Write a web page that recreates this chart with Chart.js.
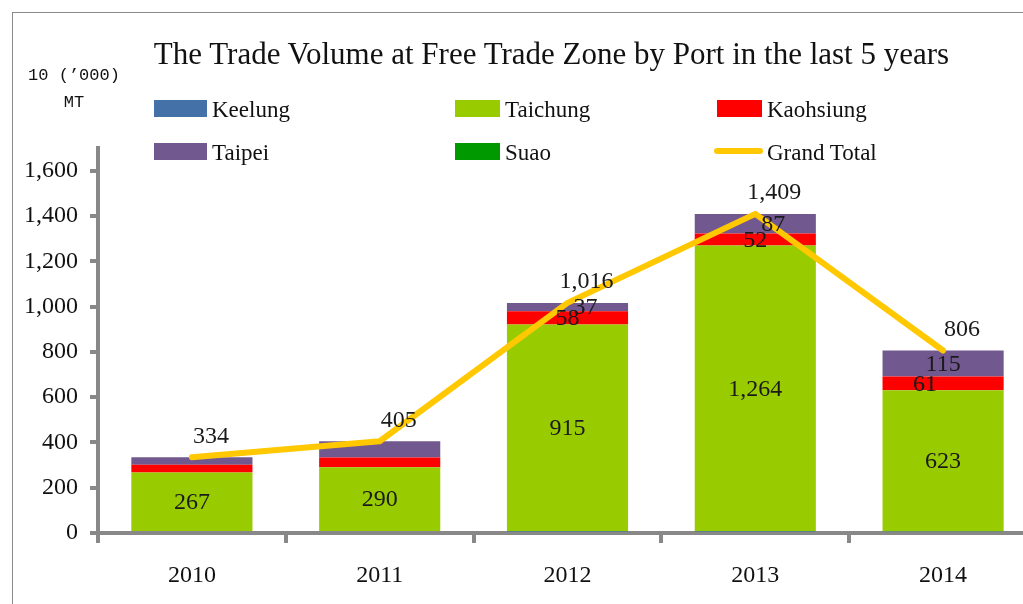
<!DOCTYPE html>
<html>
<head>
<meta charset="utf-8">
<script src="https://cdn.jsdelivr.net/npm/chart.js@4.4.1/dist/chart.umd.min.js"></script>
<style>
  html, body { margin: 0; padding: 0; background: #fff; overflow: hidden; }
  #wrap { position: relative; width: 1040px; height: 604px; }
  #frame { position: absolute; left: 12px; top: 12px; width: 1200px; height: 800px; border: 1px solid #8a8a8a; }
  #title { position: absolute; left: 0; width: 1103px; top: 36px; text-align: center;
           font: 31px "Liberation Serif", serif; color: #111; white-space: nowrap; }
  #unit { position: absolute; left: 20px; width: 108px; top: 62px; text-align: center;
          font: 17px/27px "Liberation Mono", monospace; color: #111; white-space: nowrap; }
  .lg-box { position: absolute; height: 17px; }
  .lg-line { position: absolute; height: 6px; border-radius: 3px; }
  .lg-text { position: absolute; font: 23px/24px "Liberation Serif", serif; color: #111; white-space: nowrap; }
  #chartBox { position: absolute; left: 0; top: 0; width: 1040px; height: 604px; }
</style>
</head>
<body>
<div id="wrap">
  <div id="frame"></div>
  <div id="chartBox"><canvas id="tradeChart"></canvas></div>
  <div id="title">The Trade Volume at Free Trade Zone by Port in the last 5 years</div>
  <div id="unit">10 (’000)<br>MT</div>
  <div id="legend"></div>
</div>
<script>
// ---- data (10,000 MT) ----
const years = ['2010', '2011', '2012', '2013', '2014'];
const keelung = [0, 0, 6, 6, 7];
const taichung = [267, 290, 915, 1264, 623];
const kaohsiung = [34, 43, 58, 52, 61];
const taipei = [33, 72, 37, 87, 115];
const suao = [0, 0, 0, 0, 0];
const grandTotal = [334, 405, 1016, 1409, 806];

const yTicksMax = 1600;
const yStep = 200;

// colors
const C_KEELUNG = '#4472a8';
const C_TAICHUNG = '#99cc00';
const C_KAOHSIUNG = '#ff0000';
const C_TAIPEI = '#71588f';
const C_SUAO = '#009900';
const C_TOTAL = '#ffc800';

const datasets = [
  { label: 'Keelung', data: keelung, backgroundColor: C_KEELUNG, order: 1 },
  { label: 'Taichung', data: taichung, backgroundColor: C_TAICHUNG, order: 1,
    showLabel: [true, true, true, true, true] },
  { label: 'Kaohsiung', data: kaohsiung, backgroundColor: C_KAOHSIUNG, order: 1,
    showLabel: [false, false, true, true, true], labelDx: [0, 0, 0, 0, -18] },
  { label: 'Taipei', data: taipei, backgroundColor: C_TAIPEI, order: 1,
    showLabel: [false, false, true, true, true], labelDx: [0, 0, 18, 18, 0] },
  { label: 'Suao', data: suao, backgroundColor: C_SUAO, order: 1 },
  { type: 'line', label: 'Grand Total', data: grandTotal, stack: 'total', order: 0,
    borderColor: C_TOTAL, backgroundColor: C_TOTAL, borderWidth: 6, pointRadius: 0,
    borderCapStyle: 'round', borderJoinStyle: 'round', tension: 0,
    showLabel: [true, true, true, true, true], lineLabel: true }
];
datasets.forEach(d => {
  if (d.type !== 'line') { d.type = 'bar'; d.stack = 'ports'; d.categoryPercentage = 1; d.barPercentage = 0.645; }
});

// ---- legend (html, 3 columns x 2 rows like the original) ----
const legendCols = [154, 455, 717];
const legendRows = [100, 143];
const legendBoxW = [53, 45, 45];
const legendEl = document.getElementById('legend');
datasets.forEach((ds, k) => {
  const col = k % 3, row = Math.floor(k / 3);
  const x = legendCols[col], y = legendRows[row];
  const mark = document.createElement('div');
  if (ds.type === 'line') {
    mark.className = 'lg-line';
    mark.style.left = (x - 3) + 'px';
    mark.style.top = (y + 5) + 'px';
    mark.style.width = (legendBoxW[col] + 4) + 'px';
    mark.style.background = ds.borderColor;
  } else {
    mark.className = 'lg-box';
    mark.style.left = x + 'px';
    mark.style.top = y + 'px';
    mark.style.width = legendBoxW[col] + 'px';
    mark.style.background = ds.backgroundColor;
  }
  legendEl.appendChild(mark);
  const txt = document.createElement('div');
  txt.className = 'lg-text';
  txt.textContent = ds.label;
  txt.style.left = (x + legendBoxW[col] + 5) + 'px';
  txt.style.top = (y - 2) + 'px';
  legendEl.appendChild(txt);
});

// ---- value labels drawn on top of the marks ----
const valueLabels = {
  id: 'valueLabels',
  afterDatasetsDraw(chart) {
    const ctx = chart.ctx;
    ctx.save();
    ctx.font = '24px "Liberation Serif", serif';
    ctx.fillStyle = '#1a1a1a';
    ctx.textAlign = 'center';
    ctx.textBaseline = 'middle';
    chart.data.datasets.forEach((ds, i) => {
      if (!ds.showLabel) return;
      const meta = chart.getDatasetMeta(i);
      meta.data.forEach((el, j) => {
        if (!ds.showLabel[j]) return;
        const txt = ds.data[j].toLocaleString('en-US');
        if (ds.lineLabel) {
          ctx.fillText(txt, el.x + 19, el.y - 21);
        } else {
          const dx = ds.labelDx ? ds.labelDx[j] : 0;
          ctx.fillText(txt, el.x + dx, (el.y + el.base) / 2 + 1);
        }
      });
    });
    ctx.restore();
  }
};

const axisGray = '#888888';

new Chart(document.getElementById('tradeChart'), {
  data: { labels: years, datasets: datasets },
  options: {
    responsive: true,
    maintainAspectRatio: false,
    animation: false,
    layout: { padding: { top: 148, left: 0, right: 3, bottom: 0 } },
    plugins: { legend: { display: false }, title: { display: false }, tooltip: { enabled: false } },
    scales: {
      x: {
        stacked: true,
        offset: true,
        grid: { offset: true, drawOnChartArea: false, drawTicks: true, tickLength: 10, color: axisGray, lineWidth: 4 },
        border: { display: true, color: axisGray, width: 4 },
        ticks: { color: '#111', font: { family: 'Liberation Serif', size: 24 }, padding: 18 },
        afterFit(scale) { scale.height = 71; }
      },
      y: {
        stacked: true,
        min: 0,
        max: yTicksMax + 100,
        grid: { drawOnChartArea: false, drawTicks: true, tickLength: 8, color: axisGray, lineWidth: 4 },
        border: { display: true, color: axisGray, width: 4 },
        ticks: { stepSize: yStep, includeBounds: false, color: '#111', padding: 12,
                 font: { family: 'Liberation Serif', size: 24 } },
        afterFit(scale) { scale.width = 98; }
      }
    }
  },
  plugins: [valueLabels]
});
</script>
</body>
</html>
